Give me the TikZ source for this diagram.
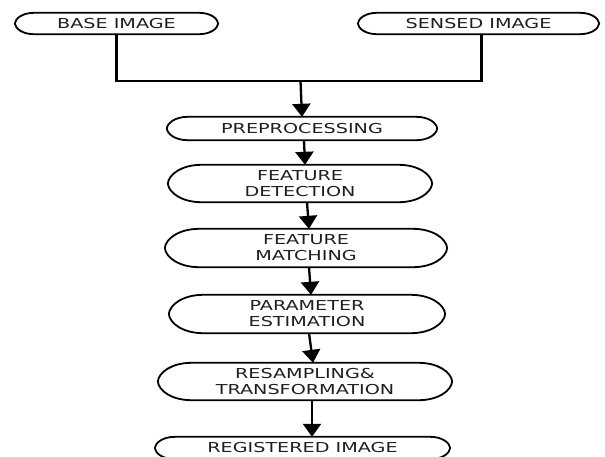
\documentclass[tikz,border=0pt]{standalone}
\usepackage{fontspec}
\usetikzlibrary{arrows.meta,calc}
\newfontfamily\boxfont[FakeStretch=1.4]{DejaVu Sans}

\tikzset{
  term/.style={shape=rectangle, inner sep=0pt, align=center, text=black!88,
               font={\boxfont\fontsize{13.7}{16}\selectfont}},
  outline/.style={draw=black, line width=1.8pt, line join=round},
  link/.style={draw=black, line width=2.3pt},
  flow/.style={link, -{Triangle[width=18pt,length=13pt]}}
}

\begin{document}
\begin{tikzpicture}[x=1pt,y=1pt]
  \useasboundingbox (0,0) rectangle (605,-456);

  % inputs
  \node[term, minimum width=203pt, minimum height=21pt] (base)   at (116.5,-23.5) {BASE IMAGE};
  \node[term, minimum width=241pt, minimum height=21pt] (sensed) at (478.5,-23.5) {SENSED IMAGE};

  % processing chain
  \node[term, minimum width=270pt, minimum height=23pt] (pre) at (302,-128.5) {PREPROCESSING};
  \node[term, minimum width=264pt, minimum height=37pt] (det) at (300,-183.5) {FEATURE\\DETECTION};
  \node[term, minimum width=282pt, minimum height=38pt] (mat) at (306,-248)   {FEATURE\\MATCHING};
  \node[term, minimum width=276pt, minimum height=38pt] (par) at (307,-314)   {PARAMETER\\ESTIMATION};
  \node[term, minimum width=294pt, minimum height=37pt] (res) at (305,-381.5) {RESAMPLING\&\\TRANSFORMATION};
  \node[term, minimum width=295pt, minimum height=22pt] (reg) at (302.5,-448) {REGISTERED IMAGE};

  % terminal outlines: flat top and bottom, blunt elliptic ends
  \foreach \nm in {base,sensed,pre,det,mat,par,res,reg}
    \draw[outline] let \p1=(\nm.north east), \p2=(\nm.south west),
                       \n1={0.5*(\y1-\y2)}, \n2={1.8*\n1}, \n3={0.5*(\y1+\y2)} in
      (\x2+\n2,\y1) -- (\x1-\n2,\y1)
      .. controls (\x1-0.42*\n2,\y1) and (\x1-0.03*\n2,\n3+0.5*\n1) .. (\x1,\n3)
      .. controls (\x1-0.03*\n2,\n3-0.5*\n1) and (\x1-0.42*\n2,\y2) .. (\x1-\n2,\y2)
      -- (\x2+\n2,\y2)
      .. controls (\x2+0.42*\n2,\y2) and (\x2+0.03*\n2,\n3-0.5*\n1) .. (\x2,\n3)
      .. controls (\x2+0.03*\n2,\n3+0.5*\n1) and (\x2+0.42*\n2,\y1) .. cycle;

  % joining the two inputs
  \coordinate (join) at (300.5,-81);
  \draw[link] (base.south) |- ([xshift=3pt]sensed.south |- join) -- ([xshift=3pt]sensed.south);
  \draw[flow] (join) -- (pre.north);

  % chain arrows
  \draw[flow] ([xshift=2pt]pre.south) -- ([xshift=5pt]det.north);
  \draw[flow] ([xshift=7pt]det.south) -- ([xshift=3pt]mat.north);
  \draw[flow] ([xshift=3pt]mat.south) -- ([xshift=4pt]par.north);
  \draw[flow] ([xshift=2pt]par.south) -- ([xshift=8pt]res.north);
  \draw[flow] ([xshift=7pt]res.south) -- ([xshift=9.5pt]reg.north);
\end{tikzpicture}
\end{document}
